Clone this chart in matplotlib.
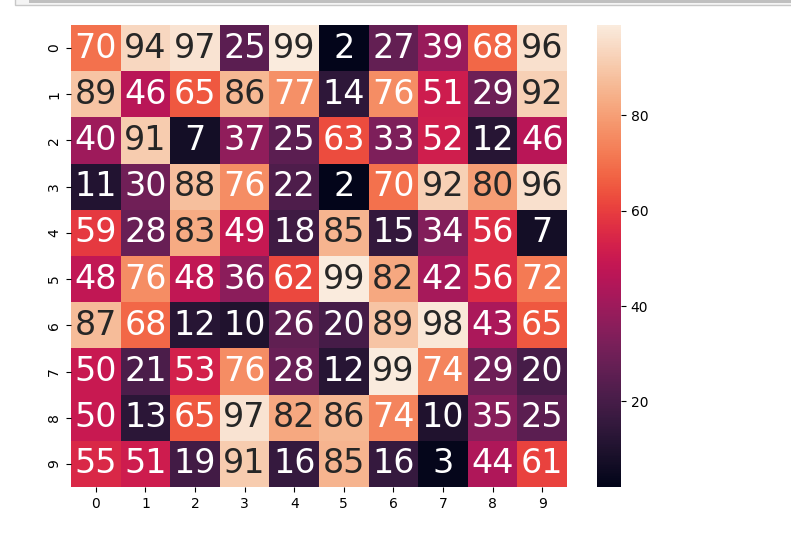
import numpy as np
import matplotlib
matplotlib.use("Agg")
import matplotlib.pyplot as plt
import seaborn as sns

rows = [str(i) for i in range(10)]
cols = [str(i) for i in range(10)]

row0 = [70, 94, 97, 25, 99, 2, 27, 39, 68, 96]
row1 = [89, 46, 65, 86, 77, 14, 76, 51, 29, 92]
row2 = [40, 91, 7, 37, 25, 63, 33, 52, 12, 46]
row3 = [11, 30, 88, 76, 22, 2, 70, 92, 80, 96]
row4 = [59, 28, 83, 49, 18, 85, 15, 34, 56, 7]
row5 = [48, 76, 48, 36, 62, 99, 82, 42, 56, 72]
row6 = [87, 68, 12, 10, 26, 20, 89, 98, 43, 65]
row7 = [50, 21, 53, 76, 28, 12, 99, 74, 29, 20]
row8 = [50, 13, 65, 97, 82, 86, 74, 10, 35, 25]
row9 = [55, 51, 19, 91, 16, 85, 16, 3, 44, 61]

data = np.array([row0, row1, row2, row3, row4, row5, row6, row7, row8, row9])

fig = plt.figure(figsize=(7.91, 5.36), dpi=100)
ax = fig.add_axes([0.0898, 0.0914, 0.627, 0.862])
cax = fig.add_axes([0.755, 0.0914, 0.030, 0.862])

sns.heatmap(data, annot=True, fmt="d", annot_kws={"size": 24},
            xticklabels=cols, yticklabels=rows, ax=ax, cbar_ax=cax)
cax.set_yticks([20, 40, 60, 80])

# screenshot chrome at the top
fig.patches.append(plt.Rectangle((0.019, 0.9905), 0.99, 0.02, transform=fig.transFigure,
                                 facecolor="#f4f4f4", edgecolor="#c8c8c8", lw=1))
fig.patches.append(plt.Rectangle((0.037, 0.9935), 0.97, 0.01, transform=fig.transFigure,
                                 facecolor="#c0c0c0", edgecolor="none"))

fig.savefig("out.png", dpi=100)
